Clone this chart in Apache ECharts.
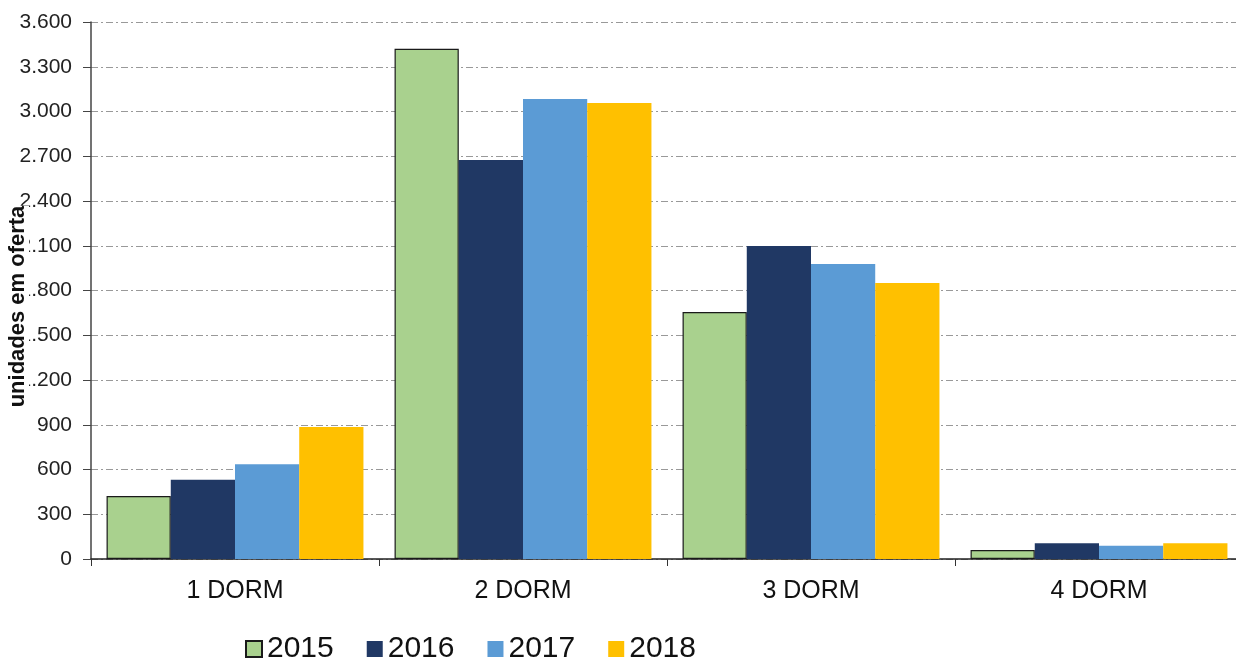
<!DOCTYPE html>
<html>
<head>
<meta charset="utf-8">
<script src="https://cdn.jsdelivr.net/npm/echarts@6/dist/echarts.min.js"></script>
<style>
  html, body { margin: 0; padding: 0; background: #fff; }
  #main { width: 1236px; height: 660px; }
</style>
</head>
<body>
<div id="main"></div>
<script>
// data
var categories = ["1 DORM", "2 DORM", "3 DORM", "4 DORM"];
var years = ["2015", "2016", "2017", "2018"];
var values2015 = [422, 3420, 1656, 60];
var values2016 = [532, 2675, 2098, 105];
var values2017 = [635, 3084, 1978, 89];
var values2018 = [885, 3057, 1850, 105];
var colors = ["#A9D18E", "#203864", "#5B9BD5", "#FFC000"];

var allValues = [values2015, values2016, values2017, values2018];

function fmt(v) {
  return String(v).replace(/\B(?=(\d{3})+(?!\d))/g, ".");
}

var chartDom = document.getElementById("main");
var myChart = echarts.init(chartDom, null, { renderer: "canvas" });

var series = years.map(function (y, i) {
  return {
    name: y,
    type: "bar",
    xAxisIndex: 0,
    yAxisIndex: 0,
    data: allValues[i],
    barGap: "0%",
    barCategoryGap: "10.8%",
    itemStyle: {
      color: colors[i],
      borderColor: i === 0 ? "#1a1a1a" : colors[i],
      borderWidth: i === 0 ? 1.2 : 0,
    },
  };
});

var option = {
  animation: false,
  textStyle: { fontFamily: "Liberation Sans, Arial, sans-serif" },
  grid: [
    {
      left: 91,
      top: 22,
      bottom: 101,
      right: -7,
      containLabel: false,
      outerBoundsMode: "none",
    },
    {
      // helper grid, only used to place the y axis title a bit lower
      left: 91,
      top: 38,
      bottom: 85,
      right: -7,
      containLabel: false,
      outerBoundsMode: "none",
    },
  ],
  legend: {
    data: years,
    left: 240,
    top: 629,
    icon: "rect",
    itemWidth: 16,
    itemHeight: 16,
    itemGap: 33,
    textStyle: { fontSize: 30, color: "#111" },
  },
  xAxis: [
    {
      type: "category",
      gridIndex: 0,
      data: categories,
      axisLine: { show: true, lineStyle: { color: "#222", width: 1.5 } },
      axisTick: { show: true, length: 7, lineStyle: { color: "#333" } },
      axisLabel: { fontSize: 25, color: "#111", margin: 20 },
    },
    {
      type: "category",
      gridIndex: 1,
      data: categories,
      show: false,
    },
  ],
  yAxis: [
    {
      type: "value",
      gridIndex: 0,
      min: 0,
      max: 3600,
      interval: 300,
      axisLine: { show: true, lineStyle: { color: "#444", width: 1.5 } },
      axisTick: { show: true, length: 8, lineStyle: { color: "#444" } },
      axisLabel: {
        fontSize: 21,
        color: "#222",
        margin: 19,
        formatter: fmt,
      },
      splitLine: {
        show: true,
        lineStyle: { color: "#999", type: [7, 3, 2, 3], width: 1 },
      },
    },
    {
      // only carries the axis title, drawn above the tick labels
      type: "value",
      gridIndex: 1,
      min: 0,
      max: 3600,
      interval: 300,
      z: 20,
      name: "unidades em oferta",
      nameLocation: "middle",
      nameGap: 62,
      nameMoveOverlap: false,
      nameRotate: 90,
      nameTextStyle: {
        fontSize: 22,
        fontWeight: "bold",
        color: "#111",
        backgroundColor: "#fff",
      },
      axisLine: { show: false },
      axisTick: { show: false },
      axisLabel: { show: false },
      splitLine: { show: false },
    },
  ],
  series: series,
};

option && myChart.setOption(option);
</script>
</body>
</html>
